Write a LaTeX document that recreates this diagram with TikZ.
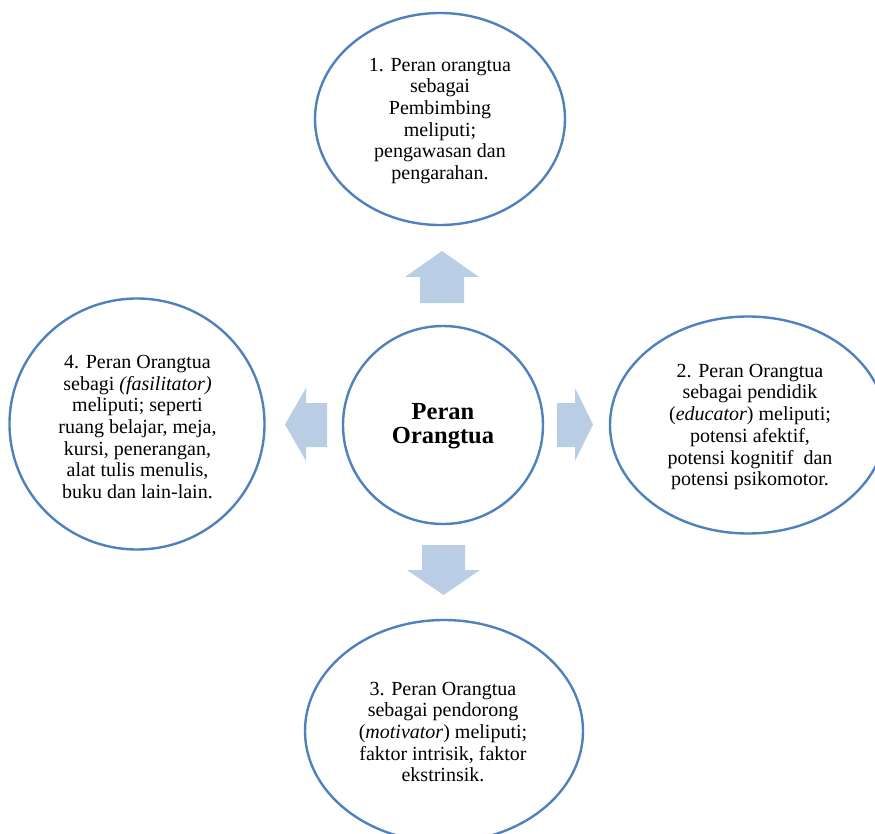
\documentclass[tikz,border=0pt]{standalone}
\usepackage{fontspec}
\setmainfont{Liberation Serif}
\usetikzlibrary{shapes.geometric}
\definecolor{ringblue}{HTML}{4F81BD}
\definecolor{arrowblue}{HTML}{B9CDE5}
\begin{document}
\begin{tikzpicture}[x=1pt,y=-1pt,
  ring/.style={draw=ringblue,line width=2.4pt,ellipse,inner sep=0pt,fill=white},
  ringtext/.style={align=center,inner sep=0pt,font=\fontsize{20}{21.7}\selectfont},
  blockarrow/.style={fill=arrowblue,draw=none}]
\useasboundingbox (0,0) rectangle (875,834);
\clip (0,0) rectangle (875,834);
% ellipses
\node[ring,minimum width=250pt,minimum height=212pt] (top) at (440,119) {};
\node[ring,minimum width=276pt,minimum height=217pt] (right) at (748,425) {};
\node[ring,minimum width=255pt,minimum height=251pt] (left) at (137,424) {};
\node[ring,minimum width=278pt,minimum height=222pt] (bottom) at (444,731) {};
\node[ring,minimum width=200pt,minimum height=198pt] (center) at (443,425) {};
% texts
\node[ringtext] (ttop) at (440,121) {1. Peran orangtua\\ sebagai\\ Pembimbing\\ meliputi;\\ pengawasan dan\\ pengarahan.};
\node[ringtext] (tright) at (750,427) {2. Peran Orangtua\\ sebagai pendidik\\ (\textit{educator}) meliputi;\\ potensi afektif,\\ potensi kognitif\ \ dan\\ potensi psikomotor.};
\node[ringtext] (tleft) at (137.5,427) {4. Peran Orangtua\\ sebagi \textit{(fasilitator)}\\ meliputi; seperti\\ ruang belajar, meja,\\ kursi, penerangan,\\ alat tulis menulis,\\ buku dan lain-lain.};
\node[ringtext] (tbottom) at (443,732) {3. Peran Orangtua\\ sebagai pendorong\\ (\textit{motivator}) meliputi;\\ faktor intrisik, faktor\\ ekstrinsik.};
\node[align=center,inner sep=0pt,font=\fontsize{24.5}{24.5}\selectfont\bfseries] (tcenter) at (443,426) {Peran\\ Orangtua};
% block arrows
\fill[blockarrow] (420,303) -- (420,277) -- (405,277) -- (442,251) -- (479,277) -- (464,277) -- (464,303) -- cycle;
\fill[blockarrow] (422,545) -- (422,570) -- (407,570) -- (443.5,595) -- (480,570) -- (465,570) -- (465,545) -- cycle;
\fill[blockarrow] (327,403) -- (306,403) -- (306,388) -- (285,424.5) -- (306,461) -- (306,447) -- (327,447) -- cycle;
\fill[blockarrow] (557,403) -- (575,403) -- (575,388) -- (593,424.5) -- (575,461) -- (575,447) -- (557,447) -- cycle;
\end{tikzpicture}
\end{document}
